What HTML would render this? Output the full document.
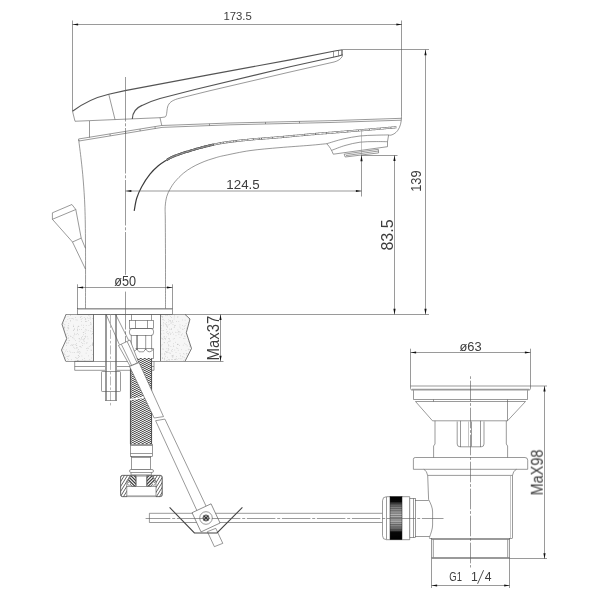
<!DOCTYPE html>
<html><head><meta charset="utf-8"><title>Faucet dimensions</title>
<style>
html,body{margin:0;padding:0;background:#fff;}
body{width:600px;height:600px;overflow:hidden;font-family:"Liberation Sans",sans-serif;}
svg{display:block;}
svg text{font-family:"Liberation Sans",sans-serif;fill:#303030;stroke:none;}
#txt{opacity:0.94;}
.l{fill:none;stroke:#555;stroke-width:0.6;}
.lf{fill:#fff;stroke:#555;stroke-width:0.6;}
.lh{stroke:#444;stroke-width:0.7;}
.ct{fill:none;stroke:#4c4c4c;stroke-width:0.75;}
.g{fill:none;stroke:#8a8a8a;stroke-width:0.5;}
.k{fill:none;stroke:#545454;stroke-width:1.15;}
.k2{fill:none;stroke:#3c3c3c;stroke-width:1.2;}
.k3{fill:none;stroke:#444;stroke-width:1.1;}
.hb{fill:none;stroke:#6a6a6a;stroke-width:2.1;}
.hb2{fill:none;stroke:#555;stroke-width:2.1;}
.hw2{fill:none;stroke:#fff;stroke-width:0.75;}
.hw1{fill:none;stroke:#fff;stroke-width:1.0;}
.wb{fill:none;stroke:#fff;stroke-width:1.6;}
.c{fill:none;stroke:#555;stroke-width:0.7;stroke-dasharray:14 2.5 2.5 2.5;}
.cA{fill:none;stroke:#5c5c5c;stroke-width:0.62;stroke-dasharray:45.5 1.8 3 1.7;stroke-dashoffset:1;}
.cB{fill:none;stroke:#5c5c5c;stroke-width:0.62;stroke-dasharray:28.5 1.8 3 1.7;stroke-dashoffset:3.7;}
.cC{fill:none;stroke:#5c5c5c;stroke-width:0.62;stroke-dasharray:20.6 1.8 2.8 1.8;stroke-dashoffset:22.6;}
.c2{fill:none;stroke:#555;stroke-width:0.7;stroke-dasharray:16 3 3 3;}
.ar{fill:#111;stroke:none;}
</style></head><body>
<svg width="600" height="600" viewBox="0 0 600 600">
<defs>
<pattern id="braid" x="130" y="358" width="4" height="2" patternUnits="userSpaceOnUse" shape-rendering="crispEdges">
<rect width="4" height="2" fill="#9c9c9c"/>
<rect x="0" y="0" width="1" height="1" fill="#f2f2f2"/><rect x="2" y="1" width="1" height="1" fill="#f2f2f2"/>
<rect x="2" y="0" width="1" height="1" fill="#505050"/><rect x="0" y="1" width="1" height="1" fill="#505050"/>
<rect x="1" y="0" width="1" height="1" fill="#c4c4c4"/><rect x="3" y="1" width="1" height="1" fill="#c4c4c4"/>
<rect x="3" y="0" width="1" height="1" fill="#808080"/><rect x="1" y="1" width="1" height="1" fill="#808080"/>
</pattern>
<pattern id="hatch" width="2.6" height="2.6" patternUnits="userSpaceOnUse" patternTransform="rotate(-60)">
<rect width="2.6" height="2.6" fill="#fff"/><line x1="0" y1="0" x2="2.6" y2="0" stroke="#444" stroke-width="1"/>
</pattern>
<pattern id="hatch2" width="2.4" height="2.4" patternUnits="userSpaceOnUse" patternTransform="rotate(40)">
<rect width="2.4" height="2.4" fill="#fff"/><line x1="0" y1="0" x2="2.4" y2="0" stroke="#444" stroke-width="1.1"/>
</pattern>
<pattern id="knurl" x="390" y="496.5" width="12" height="2.3" patternUnits="userSpaceOnUse">
<rect width="12" height="2.3" fill="#b9b9b9"/><rect y="0.2" width="12" height="0.8" fill="#5e5e5e"/>
</pattern>
<linearGradient id="kn2" x1="0" y1="0" x2="0" y2="1">
<stop offset="0" stop-color="#000" stop-opacity="1"/>
<stop offset="0.11" stop-color="#000" stop-opacity="0.95"/>
<stop offset="0.17" stop-color="#111" stop-opacity="0.6"/>
<stop offset="0.27" stop-color="#222" stop-opacity="0.3"/>
<stop offset="0.45" stop-color="#333" stop-opacity="0.02"/>
<stop offset="0.55" stop-color="#333" stop-opacity="0.02"/>
<stop offset="0.69" stop-color="#222" stop-opacity="0.3"/>
<stop offset="0.78" stop-color="#111" stop-opacity="0.6"/>
<stop offset="0.83" stop-color="#000" stop-opacity="0.95"/>
<stop offset="1" stop-color="#000" stop-opacity="1"/>
</linearGradient>
</defs>
<rect width="600" height="600" fill="#fff"/>
<path d="M66.00,314.40 L62.00,324.20 L66.70,338.60 L61.50,350.00 L65.70,361.30 L93.70,361.30 L93.70,314.40 Z" fill="#f6f6f6" stroke="none"/>
<clipPath id="c42445"><path d="M66.00,314.40 L62.00,324.20 L66.70,338.60 L61.50,350.00 L65.70,361.30 L93.70,361.30 L93.70,314.40 Z"/></clipPath>
<g clip-path="url(#c42445)" fill="#b4b4b4">
<rect x="92.0" y="332.9" width="0.6" height="0.6"/>
<rect x="63.1" y="352.9" width="0.6" height="0.6"/>
<rect x="64.5" y="341.7" width="0.6" height="0.6"/>
<rect x="90.8" y="324.5" width="0.6" height="0.6"/>
<rect x="64.3" y="334.0" width="0.6" height="0.6"/>
<rect x="69.2" y="340.2" width="0.6" height="0.6"/>
<rect x="63.4" y="340.9" width="0.6" height="0.6"/>
<rect x="92.0" y="344.0" width="0.6" height="0.6"/>
<rect x="80.3" y="317.3" width="0.6" height="0.6"/>
<rect x="80.4" y="316.7" width="0.6" height="0.6"/>
<rect x="68.6" y="340.5" width="0.6" height="0.6"/>
<rect x="65.8" y="334.1" width="0.6" height="0.6"/>
<rect x="78.9" y="341.2" width="0.6" height="0.6"/>
<rect x="79.5" y="346.4" width="0.6" height="0.6"/>
<rect x="64.8" y="341.2" width="0.6" height="0.6"/>
<rect x="67.5" y="319.0" width="0.6" height="0.6"/>
<rect x="84.4" y="340.9" width="0.6" height="0.6"/>
<rect x="81.4" y="337.7" width="0.6" height="0.6"/>
<rect x="78.6" y="350.9" width="0.6" height="0.6"/>
<rect x="76.5" y="357.7" width="0.6" height="0.6"/>
<rect x="73.1" y="326.1" width="0.6" height="0.6"/>
<rect x="67.3" y="351.0" width="0.6" height="0.6"/>
<rect x="64.1" y="328.5" width="0.6" height="0.6"/>
<rect x="77.4" y="330.5" width="0.6" height="0.6"/>
<rect x="76.0" y="343.0" width="0.6" height="0.6"/>
<rect x="63.9" y="338.4" width="0.6" height="0.6"/>
<rect x="66.8" y="330.4" width="0.6" height="0.6"/>
<rect x="91.6" y="334.2" width="0.6" height="0.6"/>
<rect x="92.5" y="318.0" width="0.6" height="0.6"/>
<rect x="79.5" y="351.4" width="0.6" height="0.6"/>
<rect x="87.9" y="330.4" width="0.6" height="0.6"/>
<rect x="72.8" y="337.7" width="0.6" height="0.6"/>
<rect x="87.2" y="317.6" width="0.6" height="0.6"/>
<rect x="64.5" y="327.1" width="0.6" height="0.6"/>
<rect x="83.9" y="317.4" width="0.6" height="0.6"/>
<rect x="85.0" y="328.9" width="0.6" height="0.6"/>
<rect x="80.1" y="346.4" width="0.6" height="0.6"/>
<rect x="75.8" y="348.0" width="0.6" height="0.6"/>
<rect x="90.1" y="330.7" width="0.6" height="0.6"/>
<rect x="91.8" y="331.1" width="0.6" height="0.6"/>
<rect x="81.2" y="337.6" width="0.6" height="0.6"/>
<rect x="68.5" y="327.9" width="0.6" height="0.6"/>
<rect x="85.3" y="333.1" width="0.6" height="0.6"/>
<rect x="91.0" y="337.7" width="0.6" height="0.6"/>
<rect x="66.9" y="333.2" width="0.6" height="0.6"/>
<rect x="70.4" y="320.8" width="0.6" height="0.6"/>
<rect x="75.4" y="340.2" width="0.6" height="0.6"/>
<rect x="84.2" y="360.7" width="0.6" height="0.6"/>
<rect x="83.5" y="332.2" width="0.6" height="0.6"/>
<rect x="68.9" y="318.3" width="0.6" height="0.6"/>
<rect x="66.4" y="345.3" width="0.6" height="0.6"/>
<rect x="61.9" y="353.4" width="0.6" height="0.6"/>
<rect x="67.4" y="327.6" width="0.6" height="0.6"/>
<rect x="66.2" y="339.5" width="0.6" height="0.6"/>
<rect x="81.1" y="329.3" width="0.6" height="0.6"/>
<rect x="65.5" y="354.7" width="0.6" height="0.6"/>
<rect x="92.1" y="345.1" width="0.6" height="0.6"/>
<rect x="85.3" y="335.8" width="0.6" height="0.6"/>
<rect x="89.5" y="359.0" width="0.6" height="0.6"/>
<rect x="83.4" y="340.6" width="0.6" height="0.6"/>
<rect x="74.3" y="332.9" width="0.6" height="0.6"/>
<rect x="77.0" y="333.2" width="0.6" height="0.6"/>
<rect x="67.6" y="360.6" width="0.6" height="0.6"/>
<rect x="75.7" y="319.6" width="0.6" height="0.6"/>
<rect x="80.8" y="319.2" width="0.6" height="0.6"/>
<rect x="79.8" y="339.6" width="0.6" height="0.6"/>
<rect x="92.1" y="343.2" width="0.6" height="0.6"/>
<rect x="63.8" y="324.2" width="0.6" height="0.6"/>
<rect x="73.6" y="344.2" width="0.6" height="0.6"/>
<rect x="92.3" y="342.6" width="0.6" height="0.6"/>
<rect x="76.8" y="319.8" width="0.6" height="0.6"/>
<rect x="77.2" y="360.3" width="0.6" height="0.6"/>
<rect x="77.0" y="329.0" width="0.6" height="0.6"/>
<rect x="66.1" y="349.6" width="0.6" height="0.6"/>
<rect x="85.3" y="336.8" width="0.6" height="0.6"/>
<rect x="83.8" y="338.6" width="0.6" height="0.6"/>
<rect x="68.1" y="359.0" width="0.6" height="0.6"/>
<rect x="73.1" y="346.8" width="0.6" height="0.6"/>
<rect x="90.9" y="350.0" width="0.6" height="0.6"/>
<rect x="71.1" y="344.6" width="0.6" height="0.6"/>
<rect x="64.4" y="354.1" width="0.6" height="0.6"/>
<rect x="78.2" y="357.0" width="0.6" height="0.6"/>
<rect x="73.0" y="324.8" width="0.6" height="0.6"/>
<rect x="78.9" y="338.0" width="0.6" height="0.6"/>
<rect x="82.0" y="343.2" width="0.6" height="0.6"/>
<rect x="86.9" y="350.0" width="0.6" height="0.6"/>
<rect x="67.8" y="325.6" width="0.6" height="0.6"/>
<rect x="74.4" y="352.1" width="0.6" height="0.6"/>
<rect x="67.9" y="337.5" width="0.6" height="0.6"/>
<rect x="85.0" y="360.8" width="0.6" height="0.6"/>
<rect x="86.9" y="336.5" width="0.6" height="0.6"/>
<rect x="67.7" y="342.8" width="0.6" height="0.6"/>
<rect x="72.6" y="352.3" width="0.6" height="0.6"/>
<rect x="84.8" y="330.8" width="0.6" height="0.6"/>
<rect x="92.9" y="318.2" width="0.6" height="0.6"/>
<rect x="64.8" y="336.4" width="0.6" height="0.6"/>
<rect x="72.4" y="337.0" width="0.6" height="0.6"/>
<rect x="93.2" y="343.0" width="0.6" height="0.6"/>
<rect x="61.6" y="357.0" width="0.6" height="0.6"/>
<rect x="72.6" y="344.6" width="0.6" height="0.6"/>
<rect x="88.4" y="320.0" width="0.6" height="0.6"/>
<rect x="74.0" y="347.8" width="0.6" height="0.6"/>
<rect x="67.9" y="356.1" width="0.6" height="0.6"/>
<rect x="75.5" y="344.2" width="0.6" height="0.6"/>
<rect x="64.3" y="358.8" width="0.6" height="0.6"/>
<rect x="84.7" y="336.1" width="0.6" height="0.6"/>
<rect x="85.4" y="318.4" width="0.6" height="0.6"/>
<rect x="66.6" y="361.0" width="0.6" height="0.6"/>
<rect x="62.4" y="342.1" width="0.6" height="0.6"/>
<rect x="76.5" y="345.2" width="0.6" height="0.6"/>
<rect x="81.2" y="342.3" width="0.6" height="0.6"/>
<rect x="76.8" y="358.4" width="0.6" height="0.6"/>
<rect x="66.5" y="340.1" width="0.6" height="0.6"/>
<rect x="62.2" y="351.9" width="0.6" height="0.6"/>
<rect x="84.9" y="319.2" width="0.6" height="0.6"/>
<rect x="85.6" y="320.9" width="0.6" height="0.6"/>
<rect x="93.3" y="323.5" width="0.6" height="0.6"/>
<rect x="89.6" y="315.7" width="0.6" height="0.6"/>
<rect x="68.4" y="337.9" width="0.6" height="0.6"/>
<rect x="86.1" y="329.7" width="0.6" height="0.6"/>
<rect x="79.0" y="353.5" width="0.6" height="0.6"/>
<rect x="63.5" y="349.1" width="0.6" height="0.6"/>
<rect x="90.4" y="345.5" width="0.6" height="0.6"/>
<rect x="87.7" y="338.6" width="0.6" height="0.6"/>
<rect x="88.1" y="355.6" width="0.6" height="0.6"/>
<rect x="65.7" y="321.5" width="0.6" height="0.6"/>
<rect x="77.9" y="355.3" width="0.6" height="0.6"/>
<rect x="86.5" y="342.9" width="0.6" height="0.6"/>
<rect x="86.5" y="321.4" width="0.6" height="0.6"/>
<rect x="66.1" y="343.4" width="0.6" height="0.6"/>
<rect x="65.4" y="317.3" width="0.6" height="0.6"/>
<rect x="83.5" y="339.3" width="0.6" height="0.6"/>
<rect x="77.0" y="350.8" width="0.6" height="0.6"/>
<rect x="89.9" y="317.1" width="0.6" height="0.6"/>
<rect x="67.7" y="316.4" width="0.6" height="0.6"/>
<rect x="64.6" y="335.6" width="0.6" height="0.6"/>
<rect x="62.4" y="356.3" width="0.6" height="0.6"/>
<rect x="63.5" y="329.7" width="0.6" height="0.6"/>
<rect x="92.8" y="342.8" width="0.6" height="0.6"/>
<rect x="67.9" y="327.4" width="0.6" height="0.6"/>
<rect x="77.9" y="352.3" width="0.6" height="0.6"/>
<rect x="77.8" y="326.0" width="0.6" height="0.6"/>
<rect x="78.3" y="355.5" width="0.6" height="0.6"/>
<rect x="91.4" y="357.7" width="0.6" height="0.6"/>
<rect x="90.2" y="323.9" width="0.6" height="0.6"/>
<rect x="75.9" y="333.9" width="0.6" height="0.6"/>
<rect x="74.1" y="329.2" width="0.6" height="0.6"/>
<rect x="83.1" y="334.5" width="0.6" height="0.6"/>
<rect x="68.3" y="328.6" width="0.6" height="0.6"/>
<rect x="65.4" y="350.8" width="0.6" height="0.6"/>
<rect x="91.8" y="344.6" width="0.6" height="0.6"/>
<rect x="73.3" y="326.3" width="0.6" height="0.6"/>
<rect x="65.9" y="336.3" width="0.6" height="0.6"/>
<rect x="85.5" y="318.8" width="0.6" height="0.6"/>
<rect x="90.0" y="322.0" width="0.6" height="0.6"/>
<rect x="83.0" y="324.9" width="0.6" height="0.6"/>
<rect x="84.2" y="361.0" width="0.6" height="0.6"/>
<rect x="74.5" y="334.2" width="0.6" height="0.6"/>
<rect x="73.0" y="318.7" width="0.6" height="0.6"/>
<rect x="73.3" y="330.3" width="0.6" height="0.6"/>
<rect x="76.3" y="347.4" width="0.6" height="0.6"/>
<rect x="73.9" y="338.7" width="0.6" height="0.6"/>
<rect x="71.0" y="359.5" width="0.6" height="0.6"/>
<rect x="65.1" y="357.5" width="0.6" height="0.6"/>
<rect x="68.9" y="355.5" width="0.6" height="0.6"/>
<rect x="64.2" y="327.2" width="0.6" height="0.6"/>
<rect x="90.7" y="322.9" width="0.6" height="0.6"/>
<rect x="85.8" y="352.8" width="0.6" height="0.6"/>
<rect x="88.9" y="346.1" width="0.6" height="0.6"/>
<rect x="92.0" y="333.4" width="0.6" height="0.6"/>
<rect x="78.8" y="338.5" width="0.6" height="0.6"/>
<rect x="77.4" y="329.7" width="0.6" height="0.6"/>
<rect x="70.5" y="351.9" width="0.6" height="0.6"/>
<rect x="67.4" y="356.4" width="0.6" height="0.6"/>
<rect x="70.2" y="315.2" width="0.6" height="0.6"/>
<rect x="64.4" y="326.6" width="0.6" height="0.6"/>
<rect x="81.1" y="324.8" width="0.6" height="0.6"/>
<rect x="70.0" y="320.1" width="0.6" height="0.6"/>
<rect x="61.9" y="361.0" width="0.6" height="0.6"/>
<rect x="75.0" y="357.3" width="0.6" height="0.6"/>
<rect x="81.5" y="316.4" width="0.6" height="0.6"/>
<rect x="84.3" y="358.4" width="0.6" height="0.6"/>
<rect x="92.7" y="326.7" width="0.6" height="0.6"/>
<rect x="67.3" y="358.1" width="0.6" height="0.6"/>
<rect x="81.7" y="339.3" width="0.6" height="0.6"/>
<rect x="68.1" y="335.3" width="0.6" height="0.6"/>
<rect x="83.1" y="327.1" width="0.6" height="0.6"/>
<rect x="87.4" y="361.0" width="0.6" height="0.6"/>
<rect x="62.7" y="315.3" width="0.6" height="0.6"/>
<rect x="77.8" y="360.3" width="0.6" height="0.6"/>
<rect x="78.1" y="325.9" width="0.6" height="0.6"/>
<rect x="75.9" y="345.3" width="0.6" height="0.6"/>
<rect x="82.4" y="345.2" width="0.6" height="0.6"/>
<rect x="79.1" y="356.1" width="0.6" height="0.6"/>
<rect x="92.7" y="328.8" width="0.6" height="0.6"/>
<rect x="68.4" y="325.2" width="0.6" height="0.6"/>
<rect x="67.9" y="355.8" width="0.6" height="0.6"/>
<rect x="85.0" y="321.0" width="0.6" height="0.6"/>
<rect x="93.4" y="360.5" width="0.6" height="0.6"/>
<rect x="88.5" y="315.1" width="0.6" height="0.6"/>
<rect x="81.6" y="355.7" width="0.6" height="0.6"/>
<rect x="75.4" y="317.0" width="0.6" height="0.6"/>
<rect x="82.9" y="332.3" width="0.6" height="0.6"/>
<rect x="77.8" y="359.9" width="0.6" height="0.6"/>
<rect x="80.8" y="346.9" width="0.6" height="0.6"/>
<rect x="63.0" y="323.1" width="0.6" height="0.6"/>
<rect x="70.2" y="314.6" width="0.6" height="0.6"/>
<rect x="73.2" y="329.8" width="0.6" height="0.6"/>
<rect x="93.2" y="329.6" width="0.6" height="0.6"/>
<rect x="62.6" y="355.8" width="0.6" height="0.6"/>
<rect x="68.5" y="323.0" width="0.6" height="0.6"/>
<rect x="72.3" y="318.3" width="0.6" height="0.6"/>
<rect x="70.5" y="345.2" width="0.6" height="0.6"/>
<rect x="69.5" y="350.8" width="0.6" height="0.6"/>
<rect x="64.4" y="352.7" width="0.6" height="0.6"/>
<rect x="66.1" y="341.9" width="0.6" height="0.6"/>
<rect x="74.2" y="328.5" width="0.6" height="0.6"/>
<rect x="81.8" y="318.4" width="0.6" height="0.6"/>
<rect x="92.3" y="354.4" width="0.6" height="0.6"/>
<rect x="66.5" y="356.3" width="0.6" height="0.6"/>
<rect x="86.7" y="342.4" width="0.6" height="0.6"/>
<rect x="86.1" y="348.2" width="0.6" height="0.6"/>
<rect x="77.4" y="327.7" width="0.6" height="0.6"/>
<rect x="81.4" y="321.2" width="0.6" height="0.6"/>
<rect x="88.1" y="347.9" width="0.6" height="0.6"/>
<rect x="78.0" y="334.5" width="0.6" height="0.6"/>
<rect x="84.1" y="338.1" width="0.6" height="0.6"/>
<rect x="90.8" y="349.7" width="0.6" height="0.6"/>
<rect x="79.8" y="352.5" width="0.6" height="0.6"/>
<rect x="62.0" y="346.6" width="0.6" height="0.6"/>
<rect x="87.2" y="347.8" width="0.6" height="0.6"/>
<rect x="92.3" y="344.6" width="0.6" height="0.6"/>
<rect x="64.2" y="316.4" width="0.6" height="0.6"/>
<rect x="82.0" y="359.4" width="0.6" height="0.6"/>
<rect x="73.6" y="335.6" width="0.6" height="0.6"/>
<rect x="63.1" y="315.3" width="0.6" height="0.6"/>
<rect x="78.6" y="325.9" width="0.6" height="0.6"/>
<rect x="70.0" y="335.8" width="0.6" height="0.6"/>
<rect x="63.8" y="358.1" width="0.6" height="0.6"/>
<rect x="90.4" y="318.7" width="0.6" height="0.6"/>
<rect x="78.4" y="349.4" width="0.6" height="0.6"/>
<rect x="76.8" y="352.4" width="0.6" height="0.6"/>
<rect x="88.7" y="325.4" width="0.6" height="0.6"/>
<rect x="85.9" y="325.2" width="0.6" height="0.6"/>
<rect x="82.4" y="336.0" width="0.6" height="0.6"/>
<rect x="88.7" y="318.0" width="0.6" height="0.6"/>
<rect x="90.8" y="327.9" width="0.6" height="0.6"/>
<rect x="63.0" y="344.1" width="0.6" height="0.6"/>
<rect x="67.9" y="342.5" width="0.6" height="0.6"/>
<rect x="72.2" y="345.0" width="0.6" height="0.6"/>
<rect x="83.8" y="343.5" width="0.6" height="0.6"/>
<rect x="65.8" y="337.0" width="0.6" height="0.6"/>
<rect x="77.1" y="360.0" width="0.6" height="0.6"/>
<rect x="64.7" y="324.6" width="0.6" height="0.6"/>
<rect x="77.3" y="347.6" width="0.6" height="0.6"/>
<rect x="70.7" y="336.3" width="0.6" height="0.6"/>
<rect x="86.2" y="361.0" width="0.6" height="0.6"/>
<rect x="79.2" y="329.0" width="0.6" height="0.6"/>
<rect x="64.3" y="336.6" width="0.6" height="0.6"/>
<rect x="70.8" y="318.0" width="0.6" height="0.6"/>
</g>
<path d="M160.50,314.40 L185.00,314.40 L190.00,319.00 L186.30,332.70 L191.50,348.50 L185.00,361.30 L160.50,361.30 Z" fill="#f6f6f6" stroke="none"/>
<clipPath id="c66403"><path d="M160.50,314.40 L185.00,314.40 L190.00,319.00 L186.30,332.70 L191.50,348.50 L185.00,361.30 L160.50,361.30 Z"/></clipPath>
<g clip-path="url(#c66403)" fill="#b4b4b4">
<rect x="190.5" y="335.5" width="0.6" height="0.6"/>
<rect x="168.8" y="324.2" width="0.6" height="0.6"/>
<rect x="189.8" y="324.3" width="0.6" height="0.6"/>
<rect x="178.5" y="321.0" width="0.6" height="0.6"/>
<rect x="176.7" y="359.1" width="0.6" height="0.6"/>
<rect x="164.6" y="352.9" width="0.6" height="0.6"/>
<rect x="176.3" y="356.0" width="0.6" height="0.6"/>
<rect x="182.3" y="325.3" width="0.6" height="0.6"/>
<rect x="188.3" y="337.2" width="0.6" height="0.6"/>
<rect x="161.3" y="314.6" width="0.6" height="0.6"/>
<rect x="175.7" y="335.5" width="0.6" height="0.6"/>
<rect x="169.9" y="321.0" width="0.6" height="0.6"/>
<rect x="171.2" y="329.2" width="0.6" height="0.6"/>
<rect x="186.5" y="314.5" width="0.6" height="0.6"/>
<rect x="183.8" y="353.8" width="0.6" height="0.6"/>
<rect x="164.2" y="357.8" width="0.6" height="0.6"/>
<rect x="182.6" y="356.7" width="0.6" height="0.6"/>
<rect x="169.5" y="331.9" width="0.6" height="0.6"/>
<rect x="172.7" y="361.2" width="0.6" height="0.6"/>
<rect x="178.8" y="331.3" width="0.6" height="0.6"/>
<rect x="173.8" y="327.3" width="0.6" height="0.6"/>
<rect x="162.0" y="319.2" width="0.6" height="0.6"/>
<rect x="186.4" y="327.8" width="0.6" height="0.6"/>
<rect x="189.5" y="326.1" width="0.6" height="0.6"/>
<rect x="168.7" y="338.4" width="0.6" height="0.6"/>
<rect x="166.4" y="331.9" width="0.6" height="0.6"/>
<rect x="190.1" y="355.9" width="0.6" height="0.6"/>
<rect x="185.7" y="344.0" width="0.6" height="0.6"/>
<rect x="188.8" y="358.5" width="0.6" height="0.6"/>
<rect x="177.5" y="348.1" width="0.6" height="0.6"/>
<rect x="162.0" y="348.7" width="0.6" height="0.6"/>
<rect x="174.5" y="349.7" width="0.6" height="0.6"/>
<rect x="180.5" y="327.8" width="0.6" height="0.6"/>
<rect x="162.0" y="357.9" width="0.6" height="0.6"/>
<rect x="164.4" y="336.5" width="0.6" height="0.6"/>
<rect x="171.2" y="328.4" width="0.6" height="0.6"/>
<rect x="183.4" y="360.2" width="0.6" height="0.6"/>
<rect x="168.6" y="345.2" width="0.6" height="0.6"/>
<rect x="169.8" y="340.5" width="0.6" height="0.6"/>
<rect x="172.7" y="322.2" width="0.6" height="0.6"/>
<rect x="165.5" y="324.1" width="0.6" height="0.6"/>
<rect x="188.6" y="337.7" width="0.6" height="0.6"/>
<rect x="167.3" y="356.9" width="0.6" height="0.6"/>
<rect x="191.4" y="335.5" width="0.6" height="0.6"/>
<rect x="164.8" y="323.4" width="0.6" height="0.6"/>
<rect x="163.3" y="330.4" width="0.6" height="0.6"/>
<rect x="163.3" y="325.6" width="0.6" height="0.6"/>
<rect x="168.5" y="341.1" width="0.6" height="0.6"/>
<rect x="188.0" y="349.6" width="0.6" height="0.6"/>
<rect x="173.3" y="333.8" width="0.6" height="0.6"/>
<rect x="176.7" y="332.1" width="0.6" height="0.6"/>
<rect x="171.0" y="317.3" width="0.6" height="0.6"/>
<rect x="169.1" y="359.8" width="0.6" height="0.6"/>
<rect x="164.4" y="338.0" width="0.6" height="0.6"/>
<rect x="180.0" y="354.9" width="0.6" height="0.6"/>
<rect x="167.2" y="327.1" width="0.6" height="0.6"/>
<rect x="168.2" y="333.1" width="0.6" height="0.6"/>
<rect x="174.3" y="359.1" width="0.6" height="0.6"/>
<rect x="186.8" y="355.3" width="0.6" height="0.6"/>
<rect x="161.2" y="315.9" width="0.6" height="0.6"/>
<rect x="182.5" y="356.4" width="0.6" height="0.6"/>
<rect x="175.2" y="341.9" width="0.6" height="0.6"/>
<rect x="160.5" y="332.8" width="0.6" height="0.6"/>
<rect x="189.2" y="353.1" width="0.6" height="0.6"/>
<rect x="187.0" y="360.0" width="0.6" height="0.6"/>
<rect x="168.2" y="319.5" width="0.6" height="0.6"/>
<rect x="165.3" y="338.9" width="0.6" height="0.6"/>
<rect x="181.6" y="358.6" width="0.6" height="0.6"/>
<rect x="182.9" y="344.8" width="0.6" height="0.6"/>
<rect x="184.2" y="335.8" width="0.6" height="0.6"/>
<rect x="177.6" y="316.3" width="0.6" height="0.6"/>
<rect x="184.8" y="325.3" width="0.6" height="0.6"/>
<rect x="189.0" y="344.7" width="0.6" height="0.6"/>
<rect x="169.9" y="320.4" width="0.6" height="0.6"/>
<rect x="168.3" y="344.2" width="0.6" height="0.6"/>
<rect x="182.2" y="319.7" width="0.6" height="0.6"/>
<rect x="162.7" y="339.0" width="0.6" height="0.6"/>
<rect x="178.6" y="332.6" width="0.6" height="0.6"/>
<rect x="167.4" y="342.6" width="0.6" height="0.6"/>
<rect x="160.8" y="328.5" width="0.6" height="0.6"/>
<rect x="174.8" y="359.4" width="0.6" height="0.6"/>
<rect x="180.5" y="355.8" width="0.6" height="0.6"/>
<rect x="175.2" y="325.4" width="0.6" height="0.6"/>
<rect x="168.2" y="359.5" width="0.6" height="0.6"/>
<rect x="182.3" y="328.8" width="0.6" height="0.6"/>
<rect x="161.2" y="337.8" width="0.6" height="0.6"/>
<rect x="181.4" y="334.1" width="0.6" height="0.6"/>
<rect x="168.5" y="345.7" width="0.6" height="0.6"/>
<rect x="189.2" y="325.0" width="0.6" height="0.6"/>
<rect x="161.6" y="330.3" width="0.6" height="0.6"/>
<rect x="173.5" y="346.4" width="0.6" height="0.6"/>
<rect x="166.6" y="351.8" width="0.6" height="0.6"/>
<rect x="183.4" y="338.1" width="0.6" height="0.6"/>
<rect x="166.9" y="359.9" width="0.6" height="0.6"/>
<rect x="170.2" y="352.9" width="0.6" height="0.6"/>
<rect x="167.7" y="324.8" width="0.6" height="0.6"/>
<rect x="184.1" y="328.2" width="0.6" height="0.6"/>
<rect x="190.0" y="337.7" width="0.6" height="0.6"/>
<rect x="166.3" y="324.9" width="0.6" height="0.6"/>
<rect x="173.4" y="345.6" width="0.6" height="0.6"/>
<rect x="189.9" y="321.3" width="0.6" height="0.6"/>
<rect x="172.7" y="324.4" width="0.6" height="0.6"/>
<rect x="190.7" y="321.1" width="0.6" height="0.6"/>
<rect x="162.1" y="317.2" width="0.6" height="0.6"/>
<rect x="172.7" y="356.5" width="0.6" height="0.6"/>
<rect x="187.9" y="348.8" width="0.6" height="0.6"/>
<rect x="191.4" y="358.1" width="0.6" height="0.6"/>
<rect x="170.7" y="323.1" width="0.6" height="0.6"/>
<rect x="189.5" y="349.4" width="0.6" height="0.6"/>
<rect x="161.5" y="345.6" width="0.6" height="0.6"/>
<rect x="172.2" y="331.9" width="0.6" height="0.6"/>
<rect x="170.8" y="322.3" width="0.6" height="0.6"/>
<rect x="160.6" y="327.5" width="0.6" height="0.6"/>
<rect x="171.4" y="359.2" width="0.6" height="0.6"/>
<rect x="164.3" y="359.6" width="0.6" height="0.6"/>
<rect x="166.9" y="331.1" width="0.6" height="0.6"/>
<rect x="186.0" y="353.0" width="0.6" height="0.6"/>
<rect x="173.9" y="316.7" width="0.6" height="0.6"/>
<rect x="175.2" y="331.9" width="0.6" height="0.6"/>
<rect x="189.0" y="323.5" width="0.6" height="0.6"/>
<rect x="171.8" y="356.5" width="0.6" height="0.6"/>
<rect x="161.4" y="333.7" width="0.6" height="0.6"/>
<rect x="185.7" y="350.4" width="0.6" height="0.6"/>
<rect x="161.8" y="316.0" width="0.6" height="0.6"/>
<rect x="162.4" y="357.6" width="0.6" height="0.6"/>
<rect x="168.5" y="349.4" width="0.6" height="0.6"/>
<rect x="188.4" y="330.3" width="0.6" height="0.6"/>
<rect x="168.9" y="359.3" width="0.6" height="0.6"/>
<rect x="179.6" y="326.7" width="0.6" height="0.6"/>
<rect x="182.7" y="329.2" width="0.6" height="0.6"/>
<rect x="169.0" y="314.6" width="0.6" height="0.6"/>
<rect x="183.9" y="357.4" width="0.6" height="0.6"/>
<rect x="180.2" y="358.6" width="0.6" height="0.6"/>
<rect x="161.3" y="325.4" width="0.6" height="0.6"/>
<rect x="175.2" y="359.3" width="0.6" height="0.6"/>
<rect x="190.1" y="332.5" width="0.6" height="0.6"/>
<rect x="168.3" y="334.6" width="0.6" height="0.6"/>
<rect x="175.8" y="357.9" width="0.6" height="0.6"/>
<rect x="166.2" y="352.0" width="0.6" height="0.6"/>
<rect x="183.4" y="353.0" width="0.6" height="0.6"/>
<rect x="184.5" y="342.9" width="0.6" height="0.6"/>
<rect x="170.7" y="329.4" width="0.6" height="0.6"/>
<rect x="171.7" y="351.1" width="0.6" height="0.6"/>
<rect x="162.9" y="323.7" width="0.6" height="0.6"/>
<rect x="183.8" y="326.0" width="0.6" height="0.6"/>
<rect x="162.5" y="316.0" width="0.6" height="0.6"/>
<rect x="177.6" y="329.7" width="0.6" height="0.6"/>
<rect x="190.9" y="355.8" width="0.6" height="0.6"/>
<rect x="191.1" y="326.8" width="0.6" height="0.6"/>
<rect x="163.1" y="318.9" width="0.6" height="0.6"/>
<rect x="176.0" y="347.7" width="0.6" height="0.6"/>
<rect x="174.4" y="325.4" width="0.6" height="0.6"/>
<rect x="173.4" y="343.5" width="0.6" height="0.6"/>
<rect x="181.4" y="349.5" width="0.6" height="0.6"/>
<rect x="186.8" y="345.6" width="0.6" height="0.6"/>
<rect x="164.3" y="353.8" width="0.6" height="0.6"/>
<rect x="169.6" y="341.0" width="0.6" height="0.6"/>
<rect x="172.1" y="349.0" width="0.6" height="0.6"/>
<rect x="166.7" y="326.0" width="0.6" height="0.6"/>
<rect x="168.1" y="321.6" width="0.6" height="0.6"/>
<rect x="187.9" y="341.5" width="0.6" height="0.6"/>
<rect x="170.6" y="333.0" width="0.6" height="0.6"/>
<rect x="191.3" y="338.2" width="0.6" height="0.6"/>
<rect x="167.7" y="352.3" width="0.6" height="0.6"/>
<rect x="180.8" y="360.9" width="0.6" height="0.6"/>
<rect x="163.7" y="336.7" width="0.6" height="0.6"/>
<rect x="185.9" y="353.8" width="0.6" height="0.6"/>
<rect x="188.8" y="316.3" width="0.6" height="0.6"/>
<rect x="169.6" y="320.0" width="0.6" height="0.6"/>
<rect x="166.4" y="360.0" width="0.6" height="0.6"/>
<rect x="178.6" y="358.0" width="0.6" height="0.6"/>
<rect x="172.0" y="355.0" width="0.6" height="0.6"/>
<rect x="174.4" y="326.6" width="0.6" height="0.6"/>
<rect x="184.6" y="358.8" width="0.6" height="0.6"/>
<rect x="163.8" y="342.4" width="0.6" height="0.6"/>
<rect x="179.7" y="324.6" width="0.6" height="0.6"/>
<rect x="171.9" y="321.0" width="0.6" height="0.6"/>
<rect x="166.8" y="326.4" width="0.6" height="0.6"/>
<rect x="179.1" y="345.0" width="0.6" height="0.6"/>
<rect x="166.8" y="314.9" width="0.6" height="0.6"/>
<rect x="170.6" y="346.2" width="0.6" height="0.6"/>
<rect x="166.2" y="329.0" width="0.6" height="0.6"/>
<rect x="166.8" y="351.7" width="0.6" height="0.6"/>
<rect x="177.5" y="317.4" width="0.6" height="0.6"/>
<rect x="163.6" y="332.9" width="0.6" height="0.6"/>
<rect x="177.6" y="344.4" width="0.6" height="0.6"/>
<rect x="163.3" y="322.1" width="0.6" height="0.6"/>
<rect x="182.1" y="333.6" width="0.6" height="0.6"/>
<rect x="169.3" y="328.8" width="0.6" height="0.6"/>
<rect x="190.0" y="329.0" width="0.6" height="0.6"/>
<rect x="178.1" y="331.2" width="0.6" height="0.6"/>
<rect x="173.4" y="354.9" width="0.6" height="0.6"/>
<rect x="191.4" y="331.5" width="0.6" height="0.6"/>
<rect x="166.6" y="348.5" width="0.6" height="0.6"/>
<rect x="166.8" y="314.7" width="0.6" height="0.6"/>
<rect x="188.5" y="334.3" width="0.6" height="0.6"/>
<rect x="185.9" y="333.5" width="0.6" height="0.6"/>
<rect x="187.9" y="336.0" width="0.6" height="0.6"/>
<rect x="165.5" y="315.1" width="0.6" height="0.6"/>
<rect x="177.6" y="344.4" width="0.6" height="0.6"/>
<rect x="188.7" y="318.6" width="0.6" height="0.6"/>
<rect x="179.8" y="331.8" width="0.6" height="0.6"/>
<rect x="176.1" y="321.2" width="0.6" height="0.6"/>
<rect x="169.3" y="338.8" width="0.6" height="0.6"/>
<rect x="189.2" y="319.5" width="0.6" height="0.6"/>
<rect x="175.7" y="352.1" width="0.6" height="0.6"/>
<rect x="190.5" y="323.7" width="0.6" height="0.6"/>
<rect x="164.4" y="358.6" width="0.6" height="0.6"/>
<rect x="190.7" y="337.0" width="0.6" height="0.6"/>
<rect x="162.2" y="357.8" width="0.6" height="0.6"/>
<rect x="172.5" y="356.8" width="0.6" height="0.6"/>
<rect x="179.7" y="353.1" width="0.6" height="0.6"/>
<rect x="165.5" y="351.3" width="0.6" height="0.6"/>
<rect x="167.4" y="333.4" width="0.6" height="0.6"/>
<rect x="186.7" y="353.3" width="0.6" height="0.6"/>
<rect x="166.2" y="324.6" width="0.6" height="0.6"/>
<rect x="172.9" y="338.7" width="0.6" height="0.6"/>
<rect x="172.4" y="320.2" width="0.6" height="0.6"/>
<rect x="168.2" y="348.4" width="0.6" height="0.6"/>
<rect x="188.3" y="316.3" width="0.6" height="0.6"/>
<rect x="177.9" y="349.9" width="0.6" height="0.6"/>
<rect x="161.7" y="353.7" width="0.6" height="0.6"/>
<rect x="164.1" y="342.5" width="0.6" height="0.6"/>
<rect x="177.6" y="343.8" width="0.6" height="0.6"/>
<rect x="170.0" y="334.1" width="0.6" height="0.6"/>
<rect x="178.6" y="334.4" width="0.6" height="0.6"/>
<rect x="180.9" y="335.4" width="0.6" height="0.6"/>
<rect x="174.1" y="315.5" width="0.6" height="0.6"/>
<rect x="179.7" y="337.4" width="0.6" height="0.6"/>
<rect x="167.8" y="350.2" width="0.6" height="0.6"/>
<rect x="184.7" y="335.9" width="0.6" height="0.6"/>
<rect x="166.1" y="336.6" width="0.6" height="0.6"/>
<rect x="163.8" y="320.4" width="0.6" height="0.6"/>
<rect x="173.8" y="318.7" width="0.6" height="0.6"/>
<rect x="174.2" y="338.3" width="0.6" height="0.6"/>
<rect x="161.8" y="344.2" width="0.6" height="0.6"/>
<rect x="163.0" y="348.8" width="0.6" height="0.6"/>
<rect x="184.6" y="338.4" width="0.6" height="0.6"/>
<rect x="162.2" y="338.0" width="0.6" height="0.6"/>
<rect x="172.2" y="359.0" width="0.6" height="0.6"/>
<rect x="164.7" y="354.6" width="0.6" height="0.6"/>
<rect x="191.4" y="348.7" width="0.6" height="0.6"/>
<rect x="185.8" y="323.5" width="0.6" height="0.6"/>
<rect x="190.9" y="337.5" width="0.6" height="0.6"/>
<rect x="190.2" y="357.4" width="0.6" height="0.6"/>
<rect x="165.6" y="351.4" width="0.6" height="0.6"/>
<rect x="189.3" y="317.5" width="0.6" height="0.6"/>
<rect x="171.4" y="349.9" width="0.6" height="0.6"/>
<rect x="165.4" y="356.4" width="0.6" height="0.6"/>
<rect x="169.0" y="352.7" width="0.6" height="0.6"/>
<rect x="165.0" y="338.0" width="0.6" height="0.6"/>
<rect x="189.0" y="324.2" width="0.6" height="0.6"/>
<rect x="168.6" y="338.1" width="0.6" height="0.6"/>
<rect x="170.4" y="316.1" width="0.6" height="0.6"/>
<rect x="166.1" y="322.0" width="0.6" height="0.6"/>
<rect x="189.5" y="346.3" width="0.6" height="0.6"/>
<rect x="188.3" y="322.3" width="0.6" height="0.6"/>
<rect x="184.8" y="319.8" width="0.6" height="0.6"/>
<rect x="177.0" y="344.2" width="0.6" height="0.6"/>
<rect x="171.7" y="355.3" width="0.6" height="0.6"/>
</g>
<path class="ct" d="M66.00,314.40 L62.00,324.20 L66.70,338.60 L61.50,350.00 L65.70,361.30" />
<line class="ct" x1="93.50" y1="314.40" x2="93.50" y2="361.30"/>
<path class="ct" d="M185.00,314.40 L190.00,319.00 L186.30,332.70 L191.50,348.50 L185.00,361.30" />
<line class="ct" x1="160.50" y1="314.40" x2="160.50" y2="361.30"/>
<line class="l" x1="65.80" y1="314.50" x2="429.00" y2="314.50"/>
<line class="l" x1="65.80" y1="361.50" x2="93.70" y2="361.50"/>
<line class="l" x1="160.50" y1="361.50" x2="223.50" y2="361.50"/>
<path class="k" d="M72.5,111.25 C82,104 95,97.5 108.75,94.25 L125,90.6 L210,74.6 L290,59.9 L336,50.7 L342.7,49.7" />
<path class="l" d="M72.5,111.25 L75,121.25 L160,117.7 L161.8,125.6" />
<line class="l" x1="108.75" y1="94.25" x2="115.00" y2="119.50"/>
<path class="k" d="M132.3,119 C132.5,112 136,108 142,105.4 C148,102.6 154,100.2 160,98.5 L195,89.5 L290,66.8 L338.7,56 L342.7,54.8" />
<path class="l" d="M160,117.7 L165,117 C167,116.5 166.6,111 167.6,107 C168.8,102.6 172,100.6 177.5,98.8 L195,94.4 L210,90.7 L290,72 L334,62 C338,61 341,59 342.5,56" />
<line class="l" x1="342.50" y1="49.70" x2="342.50" y2="55.80"/>
<line class="l" x1="333.50" y1="51.20" x2="333.50" y2="57.20"/>
<line class="l" x1="338.50" y1="50.40" x2="338.50" y2="56.10"/>
<line class="l" x1="341.50" y1="50.00" x2="341.50" y2="55.30"/>
<line class="l" x1="89.50" y1="121.00" x2="89.50" y2="137.50"/>
<path class="l" d="M78.5,139 L161.6,125.5 L230,123 L330,120.7 L401.5,118.3" />
<path class="l" d="M79,141 L162,127.4 L230,124.8 L330,122.5 L401.3,120.2" />
<line class="l" x1="78.50" y1="139.00" x2="79.00" y2="141.00"/>
<line class="l" x1="110.00" y1="133.95" x2="110.20" y2="135.85"/>
<line class="l" x1="125.50" y1="131.47" x2="125.70" y2="133.37"/>
<line class="l" x1="140.00" y1="129.15" x2="140.20" y2="131.05"/>
<line class="l" x1="155.00" y1="126.74" x2="155.20" y2="128.64"/>
<line class="l" x1="209.50" y1="123.80" x2="209.50" y2="125.60"/>
<line class="l" x1="265.50" y1="122.20" x2="265.50" y2="124.00"/>
<line class="l" x1="299.50" y1="121.40" x2="299.50" y2="123.20"/>
<path class="l" d="M78.70,140.00 C79.12,143.33 80.45,153.33 81.20,160.00 C81.95,166.67 82.58,172.08 83.20,180.00 C83.82,187.92 84.52,196.67 84.90,207.50 C85.28,218.33 85.40,228.17 85.50,245.00 C85.60,261.83 85.50,297.92 85.50,308.50" />
<path class="l" d="M165.50,308.50 C165.50,300.42 165.53,274.75 165.50,260.00 C165.47,245.25 165.35,228.88 165.30,220.00 C165.25,211.12 164.97,210.58 165.20,206.70 C165.43,202.82 165.90,199.62 166.70,196.70 C167.50,193.78 168.62,191.70 170.00,189.20 C171.38,186.70 172.78,184.35 175.00,181.70 C177.22,179.05 180.52,175.67 183.30,173.30 C186.08,170.93 188.92,169.17 191.70,167.50 C194.48,165.83 197.23,164.55 200.00,163.30 C202.77,162.05 205.52,160.98 208.30,160.00 C211.08,159.02 213.92,158.17 216.70,157.40 C219.48,156.63 219.45,156.53 225.00,155.40 C230.55,154.27 240.83,151.90 250.00,150.60 C259.17,149.30 270.00,148.48 280.00,147.60 C290.00,146.72 302.22,145.95 310.00,145.30 C317.78,144.65 323.92,143.97 326.70,143.70" />
<path class="k2" d="M134.20,210.80 C134.62,208.72 135.45,202.32 136.70,198.30 C137.95,194.28 139.48,190.72 141.70,186.70 C143.92,182.68 147.23,177.68 150.00,174.20 C152.77,170.72 155.52,168.17 158.30,165.80 C161.08,163.43 165.30,160.97 166.70,160.00" />
<path class="hb" d="M166.70,160.00 L167.04,159.80 L167.37,159.60 L167.68,159.41 L167.99,159.22 L168.29,159.04 L168.59,158.87 L168.88,158.70 L169.16,158.53 L169.45,158.36 L169.74,158.20 L170.03,158.04 L170.33,157.88 L170.64,157.72 L170.95,157.56 L171.28,157.40 L171.61,157.24 L171.97,157.07 L172.34,156.90 L172.72,156.73 L173.13,156.56 L173.56,156.38 L174.01,156.19 L174.49,156.00 L175.00,155.80 L175.54,155.59 L176.10,155.38 L176.69,155.17 L177.30,154.95 L177.93,154.72 L178.59,154.49 L179.26,154.26 L179.95,154.03 L180.65,153.79 L181.37,153.55 L182.10,153.31 L182.83,153.07 L183.57,152.83 L184.32,152.59 L185.08,152.35 L185.83,152.11 L186.58,151.87 L187.34,151.64 L188.08,151.40 L188.83,151.17 L189.56,150.95 L190.29,150.73 L191.00,150.51 L191.70,150.30 L192.39,150.09 L193.09,149.89 L193.78,149.68 L194.47,149.48 L195.16,149.28 L195.85,149.08 L196.55,148.88 L197.24,148.68 L197.93,148.49 L198.62,148.29 L199.31,148.10 L200.00,147.91 L200.69,147.72 L201.38,147.54 L202.07,147.36 L202.76,147.17 L203.45,146.99 L204.15,146.82 L204.84,146.64 L205.53,146.47 L206.22,146.30 L206.91,146.13 L207.61,145.96 L208.30,145.80 L208.99,145.64 L209.66,145.48 L210.33,145.33 L210.98,145.18 L211.63,145.03 L212.27,144.88 L212.91,144.74 L213.55,144.60 L214.19,144.46 L214.83,144.32 L215.48,144.18 L216.13,144.05 L216.78,143.92 L217.45,143.79 L218.13,143.66 L218.81,143.53 L219.52,143.40 L220.24,143.27 L220.98,143.14 L221.74,143.01 L222.51,142.89 L223.32,142.76 L224.15,142.63 L225.00,142.50 L225.88,142.37 L226.78,142.24 L227.69,142.11 L228.63,141.99 L229.58,141.86 L230.55,141.74 L231.53,141.61 L232.53,141.49 L233.55,141.36 L234.58,141.24 L235.62,141.12 L236.67,140.99 L237.73,140.87 L238.81,140.75 L239.89,140.63 L240.99,140.51 L242.09,140.40 L243.20,140.28 L244.32,140.16 L245.45,140.05 L246.58,139.94 L247.72,139.82 L248.86,139.71 L250.00,139.60 L251.15,139.49 L252.32,139.38 L253.51,139.28 L254.71,139.18 L255.92,139.07 L257.15,138.97 L258.38,138.88 L259.63,138.78 L260.88,138.68 L262.15,138.58 L263.41,138.49 L264.69,138.39 L265.97,138.30 L267.25,138.20 L268.53,138.11 L269.81,138.01 L271.10,137.91 L272.38,137.82 L273.66,137.72 L274.94,137.62 L276.22,137.52 L277.48,137.41 L278.75,137.31 L280.00,137.20 L281.25,137.09 L282.50,136.98 L283.75,136.87 L285.00,136.75 L286.25,136.64 L287.50,136.52 L288.75,136.40 L290.00,136.28 L291.25,136.16 L292.50,136.04 L293.75,135.92 L295.00,135.80 L296.25,135.68 L297.50,135.56 L298.75,135.44 L300.00,135.32 L301.25,135.20 L302.50,135.08 L303.75,134.96 L305.00,134.85 L306.25,134.73 L307.50,134.62 L308.75,134.51 L310.00,134.40 L311.25,134.29 L312.50,134.19 L313.75,134.08 L315.00,133.98 L316.25,133.88 L317.50,133.77 L318.75,133.67 L320.00,133.57 L321.25,133.48 L322.50,133.38 L323.75,133.28 L325.00,133.18 L326.25,133.08 L327.50,132.99 L328.75,132.89 L330.00,132.79 L331.25,132.70 L332.50,132.60 L333.75,132.50 L335.00,132.40 L336.25,132.30 L337.50,132.20 L338.75,132.10 L340.00,132.00 L341.25,131.90 L342.51,131.79 L343.77,131.69 L345.04,131.59 L346.31,131.48 L347.58,131.38 L348.86,131.27 L350.13,131.17 L351.40,131.06 L352.68,130.96 L353.95,130.85 L355.22,130.74 L356.49,130.64 L357.75,130.53 L359.01,130.43 L360.26,130.32 L361.51,130.22 L362.75,130.11 L363.98,130.01 L365.20,129.91 L366.42,129.80 L367.62,129.70 L368.82,129.60 L370.00,129.50 L371.18,129.40 L372.37,129.30 L373.57,129.20 L374.77,129.09 L375.97,128.99 L377.18,128.89 L378.38,128.78 L379.57,128.68 L380.77,128.57 L381.95,128.47 L383.12,128.37 L384.28,128.27 L385.43,128.17 L386.56,128.07 L387.67,127.97 L388.76,127.88 L389.83,127.78 L390.87,127.69 L391.89,127.60 L392.88,127.52 L393.83,127.43 L394.76,127.35 L395.65,127.27 L396.50,127.20" />
<path class="hb2" d="M166.70,160.00 L167.04,159.80 L167.37,159.60 L167.68,159.41 L167.99,159.22 L168.29,159.04 L168.59,158.87 L168.88,158.70 L169.16,158.53 L169.45,158.36 L169.74,158.20 L170.03,158.04 L170.33,157.88 L170.64,157.72 L170.95,157.56 L171.28,157.40 L171.61,157.24 L171.97,157.07 L172.34,156.90 L172.72,156.73 L173.13,156.56 L173.56,156.38 L174.01,156.19 L174.49,156.00 L175.00,155.80 L175.54,155.59 L176.10,155.38 L176.69,155.17 L177.30,154.95 L177.93,154.72 L178.59,154.49 L179.26,154.26 L179.95,154.03 L180.65,153.79 L181.37,153.55 L182.10,153.31 L182.83,153.07 L183.57,152.83 L184.32,152.59 L185.08,152.35 L185.83,152.11 L186.58,151.87 L187.34,151.64 L188.08,151.40 L188.83,151.17 L189.56,150.95 L190.29,150.73 L191.00,150.51 L191.70,150.30 L192.39,150.09 L193.09,149.89 L193.78,149.68 L194.47,149.48 L195.16,149.28 L195.85,149.08 L196.55,148.88 L197.24,148.68 L197.93,148.49 L198.62,148.29 L199.31,148.10 L200.00,147.91 L200.69,147.72 L201.38,147.54 L202.07,147.36 L202.76,147.17 L203.45,146.99 L204.15,146.82 L204.84,146.64 L205.53,146.47 L206.22,146.30 L206.91,146.13 L207.61,145.96 L208.30,145.80 L208.99,145.64 L209.66,145.48 L210.33,145.33 L210.98,145.18 L211.63,145.03 L212.27,144.88 L212.91,144.74 L213.55,144.60" />
<path class="hw2" d="M166.70,160.00 L167.04,159.80 L167.37,159.60 L167.68,159.41 L167.99,159.22 L168.29,159.04 L168.59,158.87 L168.88,158.70 L169.16,158.53 L169.45,158.36 L169.74,158.20 L170.03,158.04 L170.33,157.88 L170.64,157.72 L170.95,157.56 L171.28,157.40 L171.61,157.24 L171.97,157.07 L172.34,156.90 L172.72,156.73 L173.13,156.56 L173.56,156.38 L174.01,156.19 L174.49,156.00 L175.00,155.80 L175.54,155.59 L176.10,155.38 L176.69,155.17 L177.30,154.95 L177.93,154.72 L178.59,154.49 L179.26,154.26 L179.95,154.03 L180.65,153.79 L181.37,153.55 L182.10,153.31 L182.83,153.07 L183.57,152.83 L184.32,152.59 L185.08,152.35 L185.83,152.11 L186.58,151.87 L187.34,151.64 L188.08,151.40 L188.83,151.17 L189.56,150.95 L190.29,150.73 L191.00,150.51 L191.70,150.30 L192.39,150.09 L193.09,149.89 L193.78,149.68 L194.47,149.48 L195.16,149.28 L195.85,149.08 L196.55,148.88 L197.24,148.68 L197.93,148.49 L198.62,148.29 L199.31,148.10 L200.00,147.91 L200.69,147.72 L201.38,147.54 L202.07,147.36 L202.76,147.17 L203.45,146.99 L204.15,146.82 L204.84,146.64 L205.53,146.47 L206.22,146.30 L206.91,146.13 L207.61,145.96 L208.30,145.80 L208.99,145.64 L209.66,145.48 L210.33,145.33 L210.98,145.18 L211.63,145.03 L212.27,144.88 L212.91,144.74 L213.55,144.60" stroke-dasharray="0.7 0.6"/>
<path class="hw1" d="M214.19,144.46 L214.83,144.32 L215.48,144.18 L216.13,144.05 L216.78,143.92 L217.45,143.79 L218.13,143.66 L218.81,143.53 L219.52,143.40 L220.24,143.27 L220.98,143.14 L221.74,143.01 L222.51,142.89 L223.32,142.76 L224.15,142.63 L225.00,142.50 L225.88,142.37 L226.78,142.24 L227.69,142.11 L228.63,141.99 L229.58,141.86 L230.55,141.74 L231.53,141.61 L232.53,141.49 L233.55,141.36 L234.58,141.24 L235.62,141.12" stroke-dasharray="2.6 0.7"/>
<path class="hw1" d="M236.67,140.99 L237.73,140.87 L238.81,140.75 L239.89,140.63 L240.99,140.51 L242.09,140.40 L243.20,140.28 L244.32,140.16 L245.45,140.05 L246.58,139.94 L247.72,139.82 L248.86,139.71 L250.00,139.60 L251.15,139.49 L252.32,139.38 L253.51,139.28 L254.71,139.18 L255.92,139.07 L257.15,138.97 L258.38,138.88 L259.63,138.78 L260.88,138.68" stroke-dasharray="5 0.8"/>
<path class="hw1" d="M262.15,138.58 L263.41,138.49 L264.69,138.39 L265.97,138.30 L267.25,138.20 L268.53,138.11 L269.81,138.01 L271.10,137.91 L272.38,137.82 L273.66,137.72 L274.94,137.62 L276.22,137.52 L277.48,137.41 L278.75,137.31 L280.00,137.20 L281.25,137.09 L282.50,136.98 L283.75,136.87 L285.00,136.75 L286.25,136.64 L287.50,136.52 L288.75,136.40 L290.00,136.28 L291.25,136.16 L292.50,136.04 L293.75,135.92 L295.00,135.80 L296.25,135.68 L297.50,135.56 L298.75,135.44 L300.00,135.32 L301.25,135.20 L302.50,135.08 L303.75,134.96 L305.00,134.85 L306.25,134.73 L307.50,134.62 L308.75,134.51 L310.00,134.40 L311.25,134.29 L312.50,134.19 L313.75,134.08 L315.00,133.98 L316.25,133.88 L317.50,133.77 L318.75,133.67 L320.00,133.57 L321.25,133.48 L322.50,133.38 L323.75,133.28 L325.00,133.18 L326.25,133.08 L327.50,132.99 L328.75,132.89 L330.00,132.79 L331.25,132.70 L332.50,132.60 L333.75,132.50 L335.00,132.40 L336.25,132.30 L337.50,132.20 L338.75,132.10 L340.00,132.00 L341.25,131.90 L342.51,131.79 L343.77,131.69 L345.04,131.59 L346.31,131.48 L347.58,131.38 L348.86,131.27 L350.13,131.17 L351.40,131.06 L352.68,130.96 L353.95,130.85 L355.22,130.74 L356.49,130.64 L357.75,130.53 L359.01,130.43 L360.26,130.32 L361.51,130.22 L362.75,130.11 L363.98,130.01 L365.20,129.91 L366.42,129.80 L367.62,129.70 L368.82,129.60 L370.00,129.50 L371.18,129.40 L372.37,129.30 L373.57,129.20 L374.77,129.09 L375.97,128.99 L377.18,128.89 L378.38,128.78 L379.57,128.68 L380.77,128.57 L381.95,128.47 L383.12,128.37 L384.28,128.27 L385.43,128.17 L386.56,128.07 L387.67,127.97 L388.76,127.88 L389.83,127.78 L390.87,127.69 L391.89,127.60 L392.88,127.52 L393.83,127.43 L394.76,127.35 L395.65,127.27 L396.50,127.20" stroke-dasharray="10 0.8"/>
<path class="l" d="M401.5,20.5 L401.5,116.5 C401.5,122 400.3,127 397.5,130.8 C395.5,133.2 393,135 389.5,135.4" />
<path class="l" d="M326.70,143.70 C329.42,142.92 337.45,140.28 343.00,139.00 C348.55,137.72 354.67,136.63 360.00,136.00 C365.33,135.37 370.08,135.38 375.00,135.20 C379.92,135.02 387.08,134.95 389.50,134.90" />
<path class="l" d="M326.7,143.7 C330,147 331.5,150 333.3,154.2 L387.5,146.7 L387.5,141.7 L388.6,135" />
<path class="l" d="M331.80,150.30 C334.00,149.50 340.30,146.85 345.00,145.50 C349.70,144.15 355.00,142.85 360.00,142.20 C365.00,141.55 370.42,141.68 375.00,141.60 C379.58,141.52 385.42,141.68 387.50,141.70" />
<path class="l" d="M344.2,154.2 L378.3,149.3 L378.6,152.9 L345.2,157 Z" />
<line class="l" x1="346.00" y1="155.60" x2="378.40" y2="151.00"/>
<path class="l" d="M52.4,212.8 L71.9,204.5 L75.8,209.5 L52.4,219.3 Z" />
<path class="l" d="M52.4,219.3 L72.5,242 L81.2,238.1 L75.8,209.5" />
<path class="l" d="M72.5,242 L85.5,269.2 M81.2,238.1 L85.5,248.5" />
<rect class="l" x="77.50" y="308.50" width="95.00" height="6.00" rx="0.00" />
<line class="g" x1="77.50" y1="309.50" x2="172.50" y2="309.50"/>
<path class="cA" d="M125.5,77 L125.5,274.8"/>
<path class="cA" d="M125.5,291.6 L125.5,345" style="stroke-dashoffset:7.6"/>
<line class="g" x1="361.50" y1="130.00" x2="361.50" y2="155.00"/>
<line class="l" x1="361.50" y1="155.00" x2="361.50" y2="196.50"/>
<path class="l" d="M93.7,361.3 L74.7,361.3 L74.7,370.3 L154,370.3 L154,361.3" />
<line class="l" x1="74.70" y1="366.50" x2="154.00" y2="366.50"/>
<line class="l" x1="93.70" y1="361.50" x2="160.50" y2="361.50"/>
<rect x="105" y="362" width="12" height="9" fill="#fff" stroke="none"/>
<line class="l" x1="105.50" y1="314.40" x2="105.50" y2="400.50"/>
<line class="l" x1="106.50" y1="314.40" x2="106.50" y2="400.50"/>
<line class="l" x1="115.50" y1="314.40" x2="115.50" y2="400.50"/>
<line class="l" x1="116.50" y1="314.40" x2="116.50" y2="400.50"/>
<path d="M110.5,314.4 L110.5,405.5" fill="none" stroke="#999" stroke-width="0.7" stroke-dasharray="9 2 2.5 2"/>
<rect class="l" x="101.5" y="371.5" width="19" height="20" rx="0.8"/>
<line class="l" x1="105.00" y1="400.50" x2="117.00" y2="400.50"/>
<line class="l" x1="131.50" y1="314.40" x2="131.50" y2="320.30"/>
<line class="l" x1="151.50" y1="314.40" x2="151.50" y2="320.30"/>
<rect class="l" x="129.50" y="320.50" width="24.00" height="8.00" rx="0.00" />
<line class="l" x1="135.50" y1="320.30" x2="135.50" y2="328.30"/>
<line class="l" x1="147.50" y1="320.30" x2="147.50" y2="328.30"/>
<rect class="l" x="129.50" y="328.50" width="24.00" height="7.00" rx="2.60" />
<path class="l" d="M131.3,335 L131.3,349.2 M151.6,335 L151.6,349.6 M136.6,335 L136.6,350 M137.5,335 L137.5,350 M145.7,335 L145.7,350" />
<path class="l" d="M129.5,358.5 L129.5,348.8 Q131,351.6 132.9,351.2 Q134.9,351.8 136.8,349 Q139,353.2 141.2,351.8 Q143.5,353.2 145.7,349 Q147.8,352.6 149.8,351.8 Q151.8,351.8 153.5,348.8 L153.5,358.5 Z" />
<line class="l" x1="135.50" y1="348.50" x2="153.50" y2="348.50"/>
<rect x="130" y="358" width="22" height="86" fill="url(#braid)" stroke="none" shape-rendering="crispEdges"/>
<line class="k" x1="130.50" y1="358.30" x2="130.50" y2="444.00"/>
<line class="k" x1="151.50" y1="358.30" x2="151.50" y2="444.00"/>
<path class="wb" d="M129.8,399.6 Q137,399.2 146,396.6" />
<rect class="lf" x="130.50" y="444.50" width="22.00" height="12.00" rx="0.00" />
<line class="l" x1="130.50" y1="445.50" x2="152.20" y2="445.50"/>
<line class="l" x1="130.50" y1="453.50" x2="152.20" y2="453.50"/>
<rect class="lf" x="131.50" y="456.50" width="19.00" height="13.00" rx="0.00" />
<line class="l" x1="131.50" y1="457.50" x2="150.80" y2="457.50"/>
<rect class="lf" x="129.50" y="469.50" width="24.00" height="3.00" rx="1.50" />
<path class="l" d="M131,472.6 L131,475.5 M151.4,472.6 L151.4,475.5" />
<line class="g" x1="131.00" y1="474.50" x2="151.40" y2="474.50"/>
<path class="lf" d="M122.5,475.4 H160.3 Q162.2,475.4 162.2,477.3 V494.7 Q162.2,496.6 160.3,496.6 H122.5 Q120.6,496.6 120.6,494.7 V477.3 Q120.6,475.4 122.5,475.4 Z"/>
<clipPath id="h1"><path d="M122.5,475.4 L130.6,475.4 L126.8,481 L126.8,496.6 L122.5,496.6 Q120.6,496.6 120.6,494.7 L120.6,477.3 Q120.6,475.4 122.5,475.4 Z"/></clipPath>
<path clip-path="url(#h1)" d="M105.80,490.55 L120.95,466.30 M108.00,491.93 L123.16,467.68 M110.21,493.30 L125.36,469.05 M112.41,494.68 L127.57,470.43 M114.62,496.06 L129.77,471.81 M116.82,497.44 L131.98,473.19 M119.03,498.82 L134.18,474.56 M121.23,500.19 L136.39,475.94 M123.44,501.57 L138.59,477.32 M125.64,502.95 L140.80,478.70 M127.85,504.33 L143.00,480.08" fill="none" stroke="#3c3c3c" stroke-width="0.80"/>
<path class="l" d="M122.5,475.4 L130.6,475.4 L126.8,481 L126.8,496.6 L122.5,496.6 Q120.6,496.6 120.6,494.7 L120.6,477.3 Q120.6,475.4 122.5,475.4 Z"/>
<clipPath id="h2"><path d="M160.30,475.4 L152.20,475.4 L156.00,481 L156.00,496.6 L160.30,496.6 Q162.20,496.6 162.20,494.7 L162.20,477.3 Q162.20,475.4 160.30,475.4 Z"/></clipPath>
<path clip-path="url(#h2)" d="M138.48,490.97 L153.63,466.72 M140.68,492.35 L155.83,468.10 M142.89,493.73 L158.04,469.48 M145.09,495.11 L160.24,470.85 M147.30,496.48 L162.45,472.23 M149.50,497.86 L164.65,473.61 M151.71,499.24 L166.86,474.99 M153.91,500.62 L169.06,476.37 M156.12,501.99 L171.27,477.74 M158.32,503.37 L173.47,479.12 M160.52,504.75 L175.68,480.50" fill="none" stroke="#3c3c3c" stroke-width="0.80"/>
<path class="l" d="M160.30,475.4 L152.20,475.4 L156.00,481 L156.00,496.6 L160.30,496.6 Q162.20,496.6 162.20,494.7 L162.20,477.3 Q162.20,475.4 160.30,475.4 Z"/>
<clipPath id="h3"><path d="M130.9,475.7 L136,475.7 L136,486.2 L131.8,486.2 L127.4,481.6 Z"/></clipPath>
<path clip-path="url(#h3)" d="M132.00,467.13 L145.87,481.00 M130.37,468.75 L144.25,482.63 M128.75,470.38 L142.62,484.25 M127.12,472.01 L140.99,485.88 M125.49,473.63 L139.37,487.51 M123.87,475.26 L137.74,489.13 M122.24,476.88 L136.12,490.76 M120.62,478.51 L134.49,492.38 M118.99,480.14 L132.86,494.01" fill="none" stroke="#3c3c3c" stroke-width="1.10"/>
<path class="l" d="M130.9,475.7 L136,475.7 L136,486.2 L131.8,486.2 L127.4,481.6 Z"/>
<clipPath id="h4"><path d="M151.90,475.7 L146.80,475.7 L146.80,486.2 L151.00,486.2 L155.40,481.6 Z"/></clipPath>
<path clip-path="url(#h4)" d="M137.13,481.00 L151.00,467.13 M138.75,482.63 L152.63,468.75 M140.38,484.25 L154.25,470.38 M142.01,485.88 L155.88,472.01 M143.63,487.51 L157.51,473.63 M145.26,489.13 L159.13,475.26 M146.88,490.76 L160.76,476.88 M148.51,492.38 L162.38,478.51 M150.14,494.01 L164.01,480.14" fill="none" stroke="#3c3c3c" stroke-width="1.10"/>
<path class="l" d="M151.90,475.7 L146.80,475.7 L146.80,486.2 L151.00,486.2 L155.40,481.6 Z"/>
<circle cx="129.2" cy="483.6" r="1.7" class="lf"/>
<circle cx="153.60" cy="483.6" r="1.7" class="lf"/>
<path class="l" d="M136,475.7 L136,486.2 M146.80,475.7 L146.80,486.2" />
<line class="g" x1="136.00" y1="476.50" x2="146.80" y2="476.50"/>
<line class="l" x1="126.80" y1="486.50" x2="156.00" y2="486.50"/>
<line class="g" x1="126.80" y1="495.50" x2="156.00" y2="495.50"/>
<path class="lf" d="M382.5,513.3 L149.4,513.3 L149.4,522.5 L382.5,522.5"/>
<path class="l" d="M106.15,314.40 L119.37,344.59 M115.65,314.40 L128.87,340.81" />
<path class="lf" d="M118.5,345.5 L130,340 L138.6,362.4 L130.1,366.2 Z"/>
<path class="l" d="M121.4,344.4 L131.6,365.4 M127.2,341.6 L137.2,363.0" />
<path class="lf" d="M129.55,366.39 L139.05,362.61 L163.50,416.60 L154.20,418.00 Z"/>
<path class="lf" d="M155.62,420.70 L164.92,419.10 L207.00,508.11 L197.50,511.89 Z"/>
<path class="lf" d="M207.39,531.67 L215.79,528.33 L222.79,543.33 L214.39,546.67 Z"/>
<g transform="rotate(-25.03 206 518)"><rect class="lf" x="195.6" y="507.3" width="21" height="21.2"/></g>
<circle class="lf" cx="206" cy="518" r="6.3"/>
<circle cx="206" cy="518" r="3.1" fill="#999" stroke="#333" stroke-width="0.7"/>
<path d="M203.8,515.8 L208.2,520.2 M208.2,515.8 L203.8,520.2" stroke="#222" stroke-width="0.8"/>
<path class="k3" d="M169.6,507.4 L194.4,533 L217,533 L242.4,507.4" />
<path class="l" d="M410.5,386 L547,386" />
<path class="l" d="M410.5,386 L410.5,388.4 Q410.5,390 412.2,390.2 M528.8,390.2 Q530.5,390 530.5,388.4 L530.5,386" />
<path d="M411.8,389.6 L529.2,389.6" fill="none" stroke="#9a9a9a" stroke-width="1.6"/>
<path class="l" d="M413.5,390.3 L413.5,399.5 L527.5,399.5 L527.5,390.3" />
<path class="l" d="M415.5,401.5 L525.5,401.5 L507.5,420.8 L432.5,420.8 Z" />
<line class="l" x1="433.50" y1="399.50" x2="433.50" y2="401.50"/>
<line class="l" x1="507.50" y1="399.50" x2="507.50" y2="420.80"/>
<path class="l" d="M435,420.8 L435,444 L433.6,446 L433.6,457.5 M506.3,420.8 L506.3,444 L507.6,446 L507.6,457.5" />
<path class="l" d="M457.2,421.5 L457.2,444 Q457.2,446.8 460,446.8 L481.2,446.8 Q484,446.8 484,444 L484,421.5" />
<line class="l" x1="460.50" y1="420.80" x2="460.50" y2="447.00"/>
<line class="l" x1="480.50" y1="420.80" x2="480.50" y2="447.00"/>
<line class="g" x1="468.50" y1="421.50" x2="468.50" y2="446.50"/>
<line class="l" x1="471.50" y1="421.50" x2="471.50" y2="446.50"/>
<path class="l" d="M415.2,457.5 L525,457.5 Q527.7,457.5 527.7,460.2 L527.7,469.3 L413.4,469.3 L413.4,459.3 Q413.4,457.5 415.2,457.5 Z" />
<path class="l" d="M423.8,469.3 Q427,470.8 427.6,475.4 L512.5,475.4 Q513,470.8 516.5,469.3" />
<path class="l" d="M427.7,475.4 L428.6,499.5 C431,504 432.6,508 432.6,512 L432.6,525 C432.6,529 431,533 429.3,537.8 M512.5,475.4 L512.5,538" />
<line class="g" x1="510.50" y1="476.00" x2="510.50" y2="538.00"/>
<line class="l" x1="415.00" y1="500.50" x2="428.60" y2="500.50"/>
<line class="l" x1="415.00" y1="536.50" x2="429.60" y2="536.50"/>
<rect class="l" x="409.50" y="498.50" width="6.00" height="39.00" rx="0.00" />
<line class="l" x1="413.50" y1="498.30" x2="413.50" y2="537.60"/>
<path class="lf" d="M409.7,496.7 L386.5,496.7 Q382.5,496.7 382.5,500.7 L382.5,535.7 Q382.5,539.7 386.5,539.7 L409.7,539.7 Z"/>
<line class="l" x1="386.50" y1="497.00" x2="386.50" y2="539.40"/>
<rect x="390" y="496.7" width="12" height="43" fill="url(#knurl)" stroke="none"/>
<rect x="390" y="496.7" width="12" height="43" fill="url(#kn2)" stroke="#222" stroke-width="0.5"/>
<line class="l" x1="429.30" y1="538.50" x2="512.50" y2="538.50"/>
<line class="l" x1="431.60" y1="539.50" x2="509.60" y2="539.50"/>
<path class="l" d="M431.5,538 L431.5,558.8 M509.5,538 L509.5,558.8 M433.3,539.6 L433.3,557.4 M507.7,539.6 L507.7,557.4" />
<line class="l" x1="431.60" y1="557.50" x2="509.60" y2="557.50"/>
<line class="l" x1="431.60" y1="558.50" x2="547.00" y2="558.50"/>
<path class="cC" d="M470.5,376.3 L470.5,567.5"/>
<path class="cB" d="M145.6,518.5 L443.5,518.5"/>
<line class="l" x1="72.50" y1="24.50" x2="402.00" y2="24.50"/>
<line class="l" x1="72.50" y1="20.50" x2="72.50" y2="111.20"/>
<polygon class="ar" points="72.50,24.50 78.10,23.40 78.10,25.60"/>
<polygon class="ar" points="402.00,24.50 396.40,23.40 396.40,25.60"/>
<line class="l" x1="343.00" y1="49.50" x2="429.00" y2="49.50"/>
<line class="l" x1="425.50" y1="49.70" x2="425.50" y2="314.40"/>
<polygon class="ar" points="425.50,49.70 424.40,55.30 426.60,55.30"/>
<polygon class="ar" points="425.50,314.40 424.40,308.80 426.60,308.80"/>
<line class="l" x1="361.00" y1="155.50" x2="397.50" y2="155.50"/>
<line class="l" x1="394.50" y1="155.30" x2="394.50" y2="314.40"/>
<polygon class="ar" points="394.50,155.30 393.40,160.90 395.60,160.90"/>
<polygon class="ar" points="394.50,314.40 393.40,308.80 395.60,308.80"/>
<polygon class="ar" points="361.50,155.60 360.40,161.20 362.60,161.20"/>
<path class="l" d="M125.5,191 L361.5,191" />
<polygon class="ar" points="125.75,191.00 131.35,189.90 131.35,192.10"/>
<polygon class="ar" points="361.50,191.00 355.90,189.90 355.90,192.10"/>
<line class="l" x1="77.50" y1="287.50" x2="172.50" y2="287.50"/>
<line class="l" x1="77.50" y1="284.30" x2="77.50" y2="308.50"/>
<line class="l" x1="172.50" y1="284.30" x2="172.50" y2="308.50"/>
<polygon class="ar" points="77.50,287.50 83.10,286.40 83.10,288.60"/>
<polygon class="ar" points="172.50,287.50 166.90,286.40 166.90,288.60"/>
<line class="l" x1="220.50" y1="314.40" x2="220.50" y2="361.30"/>
<polygon class="ar" points="220.50,314.40 219.40,320.00 221.60,320.00"/>
<polygon class="ar" points="220.50,361.30 219.40,355.70 221.60,355.70"/>
<line class="l" x1="410.50" y1="352.50" x2="530.50" y2="352.50"/>
<line class="l" x1="410.50" y1="348.70" x2="410.50" y2="386.00"/>
<line class="l" x1="530.50" y1="348.70" x2="530.50" y2="386.00"/>
<polygon class="ar" points="410.50,352.50 416.10,351.40 416.10,353.60"/>
<polygon class="ar" points="530.50,352.50 524.90,351.40 524.90,353.60"/>
<line class="l" x1="544.50" y1="386.00" x2="544.50" y2="558.80"/>
<polygon class="ar" points="544.50,386.00 543.40,391.60 545.60,391.60"/>
<polygon class="ar" points="544.50,558.80 543.40,553.20 545.60,553.20"/>
<line class="l" x1="431.50" y1="585.50" x2="509.60" y2="585.50"/>
<line class="l" x1="431.50" y1="558.80" x2="431.50" y2="588.00"/>
<line class="l" x1="509.50" y1="558.80" x2="509.50" y2="588.00"/>
<polygon class="ar" points="431.50,585.50 437.10,584.40 437.10,586.60"/>
<polygon class="ar" points="509.80,585.50 504.20,584.40 504.20,586.60"/>
<path d="M477.6,583.8 L483.6,570.2" stroke="#3a3a3a" stroke-width="0.95" fill="none" opacity="0.92"/>
<g id="txt"><text x="223.40" y="20.00" font-size="11.80" textLength="28.40" lengthAdjust="spacingAndGlyphs" text-anchor="start">173.5</text>
<text x="421.30" y="191.80" font-size="14.00" textLength="21.40" lengthAdjust="spacingAndGlyphs" transform="rotate(-90 421.30 191.80)" text-anchor="start">139</text>
<text x="393.00" y="250.60" font-size="16.00" textLength="31.20" lengthAdjust="spacingAndGlyphs" transform="rotate(-90 393.00 250.60)" text-anchor="start">83.5</text>
<text x="226.30" y="189.40" font-size="13.20" textLength="33.40" lengthAdjust="spacingAndGlyphs" text-anchor="start">124.5</text>
<text x="114.30" y="286.40" font-size="14.20" textLength="21.80" lengthAdjust="spacingAndGlyphs" text-anchor="start">ø50</text>
<text x="219.20" y="360.40" font-size="16.00" textLength="44.60" lengthAdjust="spacingAndGlyphs" transform="rotate(-90 219.20 360.40)" text-anchor="start">Max37</text>
<text x="459.40" y="351.20" font-size="13.60" textLength="22.20" lengthAdjust="spacingAndGlyphs" text-anchor="start">ø63</text>
<text x="543.20" y="495.40" font-size="16.00" textLength="45.80" lengthAdjust="spacingAndGlyphs" transform="rotate(-90 543.20 495.40)" text-anchor="start">MaX98</text>
<text x="449.30" y="580.90" font-size="12.20" textLength="12.60" lengthAdjust="spacingAndGlyphs" text-anchor="start">G1</text>
<text x="470.90" y="580.90" font-size="12.20" text-anchor="start">1</text>
<text x="484.80" y="580.90" font-size="12.20" text-anchor="start">4</text></g>
</svg>
</body></html>
